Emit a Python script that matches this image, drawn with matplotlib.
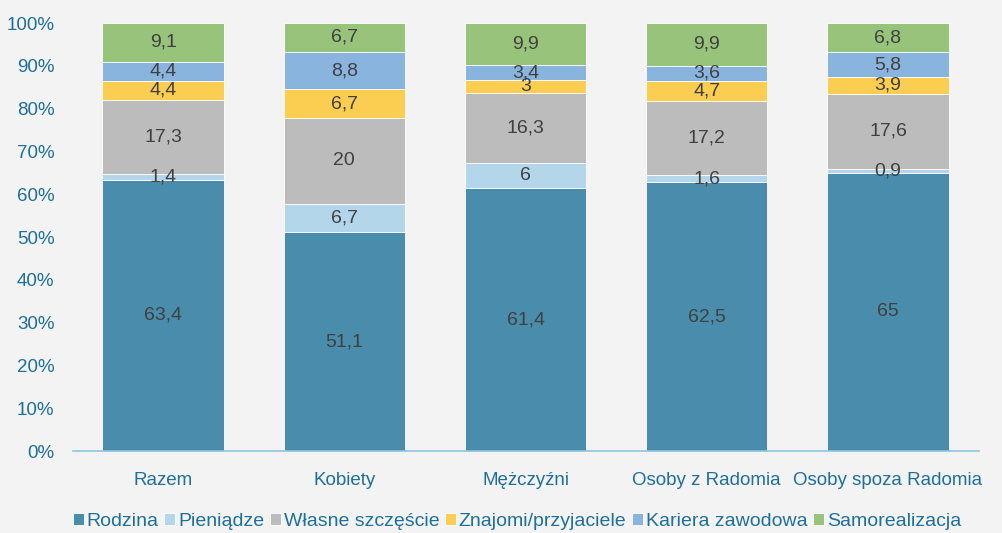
import numpy as np
import matplotlib.pyplot as plt
from matplotlib.ticker import FuncFormatter

plt.rcParams['font.family'] = ['Liberation Sans', 'DejaVu Sans']

categories = ['Razem', 'Kobiety', 'Mężczyźni', 'Osoby z Radomia', 'Osoby spoza Radomia']
series = ['Rodzina', 'Pieniądze', 'Własne szczęście', 'Znajomi/przyjaciele',
          'Kariera zawodowa', 'Samorealizacja']
rodzina = [63.4, 51.1, 61.4, 62.5, 65]
pieniadze = [1.4, 6.7, 6, 1.6, 0.9]
szczescie = [17.3, 20, 16.3, 17.2, 17.6]
znajomi = [4.4, 6.7, 3, 4.7, 3.9]
kariera = [4.4, 8.8, 3.4, 3.6, 5.8]
samorealizacja = [9.1, 6.7, 9.9, 9.9, 6.8]
colors = ['#4a8cab', '#b4d6ea', '#bcbcbc', '#fbcd50', '#88b4de', '#98c37b']

values = np.array([rodzina, pieniadze, szczescie, znajomi, kariera, samorealizacja])
shares = values / values.sum(axis=0) * 100

blue = '#1f6f99'
fig = plt.figure(figsize=(10.02, 5.33), dpi=100, facecolor='#f3f3f3')
ax = fig.add_axes([0.0724, 0.1538, 0.9042, 0.803])
ax.set_facecolor('#f3f3f3')

x = np.arange(len(categories))
bottom = np.zeros(len(categories))
for i, name in enumerate(series):
    ax.bar(x, shares[i], 0.67, bottom=bottom, color=colors[i], label=name,
           edgecolor='white', linewidth=0.6)
    for j in range(len(categories)):
        lbl = f'{values[i, j]:g}'.replace('.', ',')
        ax.text(x[j], bottom[j] + shares[i, j] / 2, lbl, ha='center', va='center',
                fontsize=14, color='#404040')
    bottom += shares[i]

ax.set_xlim(-0.5, len(categories) - 0.5)
ax.set_ylim(0, 100)
ax.set_yticks(np.arange(0, 101, 10))
ax.yaxis.set_major_formatter(FuncFormatter(lambda v, p: f'{v:.0f}%'))
ax.set_xticks(x)
ax.set_xticklabels(categories)
ax.tick_params(axis='both', length=0, labelsize=13.5, colors=blue)
ax.tick_params(axis='y', pad=13)
ax.tick_params(axis='x', pad=15)
for s in ['top', 'right', 'left']:
    ax.spines[s].set_visible(False)
ax.spines['bottom'].set_color('#8fc3e0')
ax.spines['bottom'].set_linewidth(1.2)

leg = fig.legend(loc='center', bbox_to_anchor=(0.516, 0.022), ncol=6, frameon=False,
                 fontsize=14, handlelength=0.55, handleheight=0.55, handletextpad=0.15,
                 columnspacing=0.3, borderpad=0)
for t in leg.get_texts():
    t.set_color(blue)

fig.savefig('out.png', dpi=100, facecolor=fig.get_facecolor())
